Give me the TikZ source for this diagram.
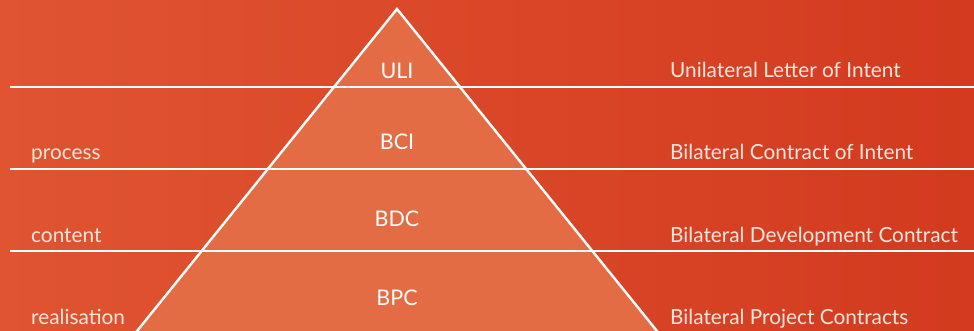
\documentclass[tikz,border=0pt]{standalone}
\usepackage{fontspec}
\setmainfont{Lato}
\begin{document}
\definecolor{bgL}{HTML}{E05431}
\definecolor{bgR}{HTML}{D33A1F}
\definecolor{tri}{HTML}{E36C45}
\definecolor{txt}{HTML}{FBE6DE}
\begin{tikzpicture}[x=1pt,y=-1pt,
  rule/.style={draw=white,line width=2.2pt},
  lab/.style={text=txt,font=\fontsize{20.8}{22}\selectfont,inner sep=0pt,anchor=base west},
  lvl/.style={text=white,font=\fontsize{21.5}{23}\selectfont,inner sep=0pt,anchor=base}]
  \useasboundingbox (0,0) rectangle (974,331);
  % background gradient
  \shade[left color=bgL,right color=bgR] (0,0) rectangle (974,331);
  % pyramid
  \coordinate (apex) at (397,9);
  \coordinate (bl) at (133,336);
  \coordinate (br) at (661,336);
  \fill[tri] (apex) -- (bl) -- (br) -- cycle;
  % level rules
  \foreach \y/\n in {87/a,169/b,251/c}{
    \coordinate (r\n w) at (10,\y);
    \coordinate (r\n e) at (974,\y);
    \draw[rule] (r\n w) -- (r\n e);
  }
  \draw[draw=white,line width=2.4pt,line join=miter] (bl) -- (apex) -- (br);
  % level names
  \node[lvl] (uli) at (397,79) {ULI};
  \node[lvl] (bci) at (397,150) {BCI};
  \node[lvl] (bdc) at (397,226) {BDC};
  \node[lvl] (bpc) at (397,305) {BPC};
  % left labels
  \node[lab] (process) at (31,160) {process};
  \node[lab] (content) at (31,242) {content};
  \node[lab] (realis) at (31,324) {realisation};
  % right labels
  \node[lab] (ulit) at (670,78) {Unilateral Letter of Intent};
  \node[lab] (bcit) at (670,160) {Bilateral Contract of Intent};
  \node[lab] (bdct) at (670,242) {Bilateral Development Contract};
  \node[lab] (bpct) at (670,324) {Bilateral Project Contracts};
\end{tikzpicture}
\end{document}
